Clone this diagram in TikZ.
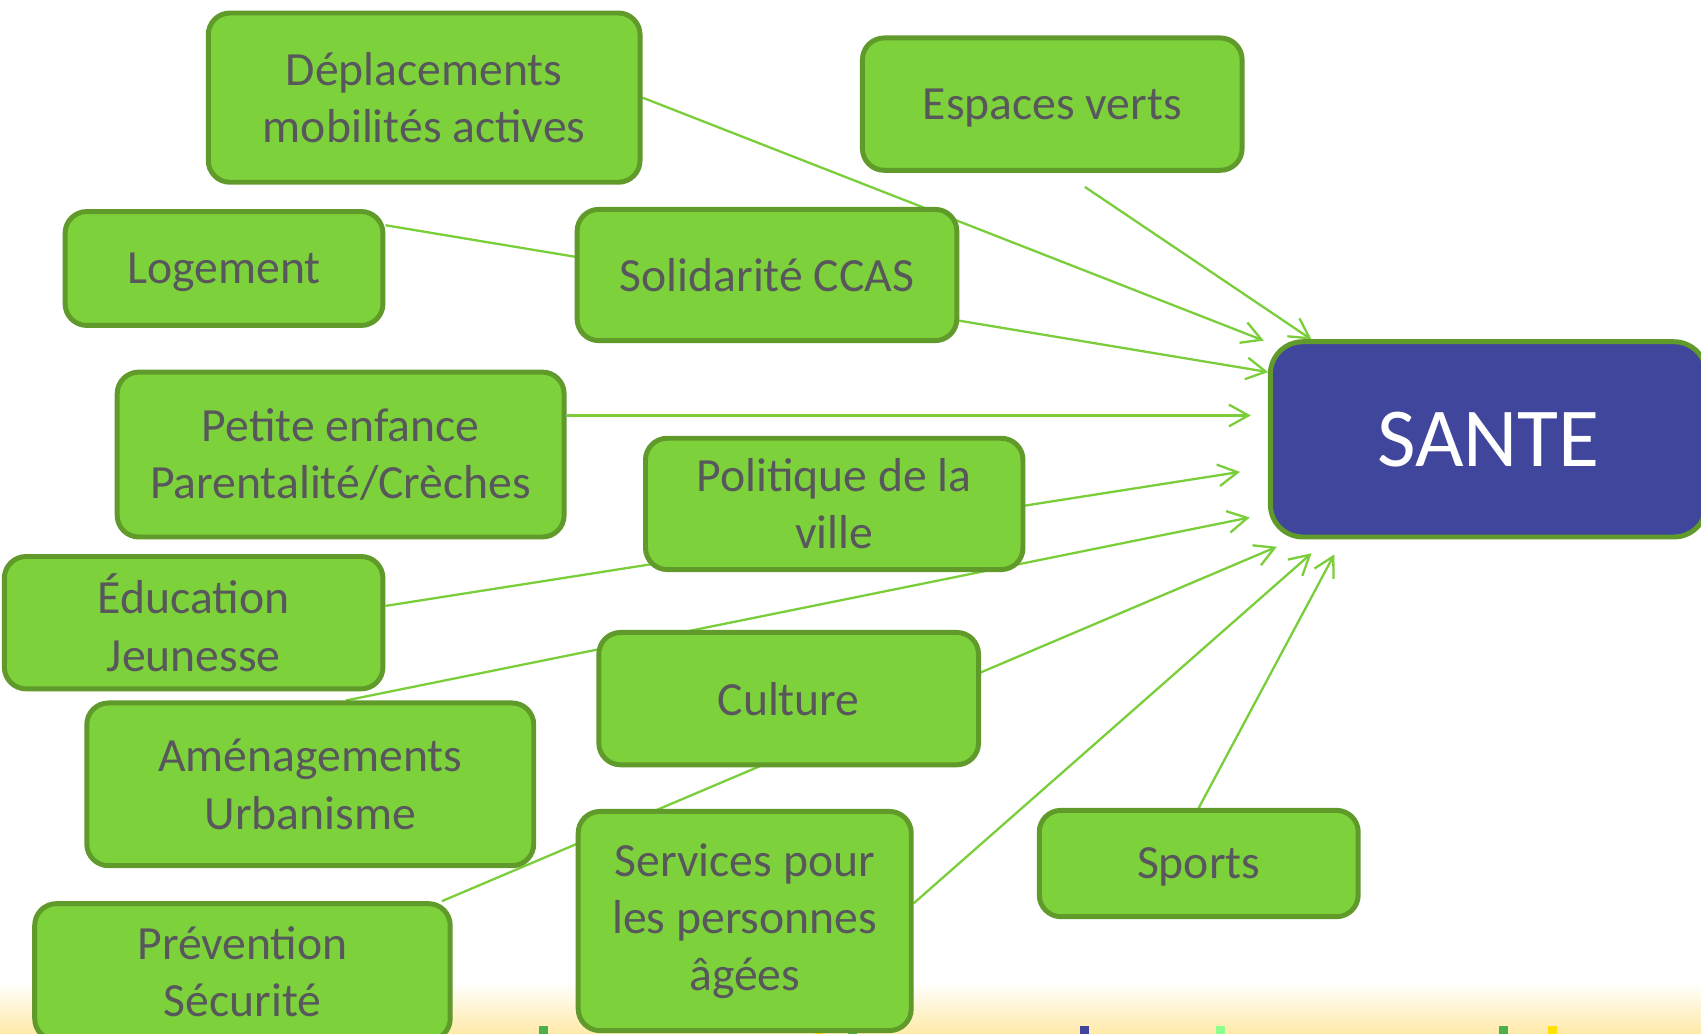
\documentclass[tikz,border=0pt]{standalone}
\usepackage{fontspec}
\setmainfont{Carlito}
\usepackage{tikz}
\usetikzlibrary{arrows.meta}
\usetikzlibrary{backgrounds}
\definecolor{boxgreen}{RGB}{125,209,59}
\definecolor{edgegreen}{RGB}{96,154,42}
\definecolor{linegreen}{RGB}{122,206,58}
\definecolor{textgray}{RGB}{88,88,92}
\definecolor{santeblue}{RGB}{64,70,155}
\definecolor{gradyellow}{RGB}{255,234,168}

\begin{document}
\begin{tikzpicture}[
    theme/.style={draw=edgegreen, line width=1.3pt, rectangle, rounded corners=2mm,
        fill=boxgreen, align=center, text=textgray, inner sep=2pt,
        font=\fontsize{12.5}{15}\selectfont},
    oneline/.style={text depth=0pt},
    sante/.style={draw=edgegreen, line width=1.3pt, rectangle, rounded corners=3mm,
        fill=santeblue, text=white, font=\fontsize{22}{26}\selectfont},
    link/.style={draw=linegreen, line width=0.6pt, -{Straight Barb[length=1.8mm,width=2mm]}}
]
    \clip (0,0) rectangle (15.68,-9.53);
    \useasboundingbox (0,0) rectangle (15.68,-9.53);

    % Themes around health
    \node[theme, minimum width=3.98cm, minimum height=1.56cm] (depl) at (3.91,-0.90) {Déplacements\\mobilités actives};
    \node[theme, oneline, minimum width=3.50cm, minimum height=1.22cm] (espa) at (9.70,-0.96) {Espaces verts};
    \node[theme, oneline, minimum width=2.93cm, minimum height=1.05cm] (loge) at (2.065,-2.475) {Logement};
    \node[theme, oneline, minimum width=3.50cm, minimum height=1.21cm] (soli) at (7.07,-2.535) {Solidarité CCAS};
    \node[theme, minimum width=4.12cm, minimum height=1.52cm] (peti) at (3.14,-4.19) {Petite enfance\\Parentalité/Crèches};
    \node[theme, minimum width=3.48cm, minimum height=1.21cm] (poli) at (7.69,-4.645) {Politique de la\\ville};
    \node[theme, minimum width=3.49cm, minimum height=1.22cm] (educ) at (1.785,-5.74) {Éducation\\Jeunesse};
    \node[theme, oneline, minimum width=3.50cm, minimum height=1.22cm] (cult) at (7.27,-6.44) {Culture};
    \node[theme, minimum width=4.12cm, minimum height=1.50cm] (amen) at (2.86,-7.23) {Aménagements\\Urbanisme};
    \node[theme, minimum width=3.07cm, minimum height=2.02cm] (serv) at (6.865,-8.49) {Services pour\\les personnes\\âgées};
    \node[theme, oneline, minimum width=2.94cm, minimum height=0.98cm] (spor) at (11.05,-7.96) {Sports};
    \node[theme, minimum width=3.83cm, minimum height=1.26cm] (prev) at (2.235,-8.96) {Prévention\\Sécurité};

    % Central node
    \node[sante, minimum width=4.02cm, minimum height=1.80cm] (sant) at (13.72,-4.05) {SANTE};

    % Arrow tips near the central node
    \coordinate (tdepl) at (11.65,-3.14);
    \coordinate (tespa) at (12.09,-3.13);
    \coordinate (tloge) at (11.69,-3.43);
    \coordinate (tpeti) at (11.53,-3.83);
    \coordinate (teduc) at (11.43,-4.35);
    \coordinate (tamen) at (11.52,-4.77);
    \coordinate (tprev) at (11.77,-5.04);
    \coordinate (tserv) at (12.09,-5.10);
    \coordinate (tspor) at (12.30,-5.11);

    \begin{pgfonlayer}{background}
        % Page and bottom strip
        \fill[white] (0,0) rectangle (15.68,-9.53);
        \shade[top color=white, bottom color=gradyellow] (0,-9.05) rectangle (15.68,-9.53);
        \foreach \x/\c in {5.01/green!55!black!70, 7.55/yellow!85!orange, 7.86/green!55!black!70,
                           9.995/santeblue, 11.25/green!45, 13.86/green!55!black!70, 14.31/yellow!85!orange}
            \fill[\c] (\x-0.04,-9.46) rectangle (\x+0.04,-9.53);

        % Links to health
        \draw[link] (depl.east) -- (tdepl);
        \draw[link] ([xshift=3mm,yshift=-1.3mm]espa.south) -- (tespa);
        \draw[link] (loge.15) -- (tloge);
        \draw[link] (peti.east |- tpeti) -- (tpeti);
        \draw[link] (educ.5) -- (teduc);
        \draw[link] (amen.67) -- (tamen);
        \draw[link] ([xshift=-1mm]prev.north east) -- (tprev);
        \draw[link] (serv.6) -- (tserv);
        \draw[link] (spor.north) -- (tspor);
    \end{pgfonlayer}
\end{tikzpicture}
\end{document}
